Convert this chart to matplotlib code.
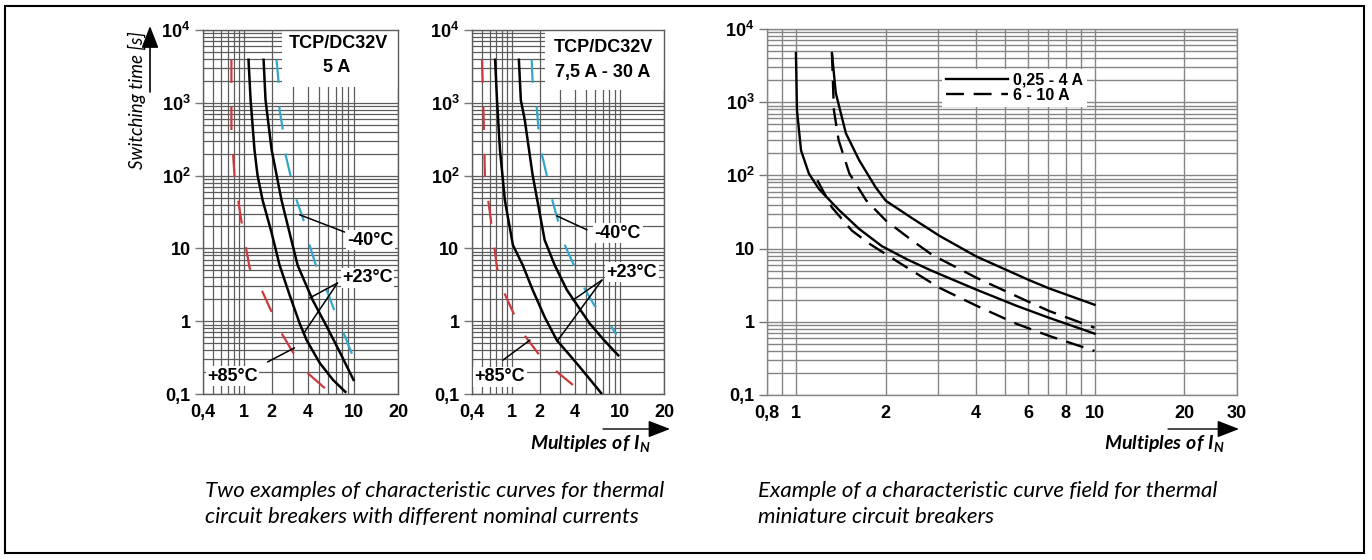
import numpy as np
import matplotlib
matplotlib.use("Agg")
import matplotlib.pyplot as plt
from matplotlib.ticker import FixedLocator, FixedFormatter, LogLocator, NullFormatter
from matplotlib.patches import Rectangle, FancyArrowPatch

# ---- values (x = multiples of I_N, y = switching time [s]) ----
# left chart: TCP/DC32V 5 A
a5_hot_x = [0.76, 0.76, 0.817, 0.956, 1.16, 1.56, 2.0, 2.33, 3.0, 3.93, 5.65]
a5_hot_y = [3900, 423, 96, 23, 5.4, 2.7, 1.34, 0.76, 0.38, 0.2, 0.12]
a5_room_lo_x = [1.13, 1.19, 1.31, 1.41, 1.60, 2.0, 2.33, 2.83, 3.43, 3.93, 5.1, 6.65, 8.5]
a5_room_lo_y = [3900, 1090, 225, 102, 46, 16.3, 5.9, 2.29, 0.94, 0.55, 0.267, 0.156, 0.107]
a5_room_hi_x = [1.64, 1.72, 2.0, 2.2, 2.42, 2.83, 3.3, 4.43, 5.9, 7.67, 10]
a5_room_hi_y = [3900, 1090, 225, 102, 46, 16.3, 5.9, 1.95, 0.83, 0.366, 0.156]
a5_cold_x = [2.2, 2.29, 2.33, 2.47, 2.62, 2.94, 3.24, 3.78, 4.17, 4.8, 6.0, 6.9, 8.2, 9.8]
a5_cold_y = [3900, 1870, 796, 451, 192, 87, 46, 22.3, 11.1, 5.4, 2.44, 1.34, 0.69, 0.34]

# middle chart: TCP/DC32V 7,5 A - 30 A
a30_hot_x = [0.503, 0.526, 0.538, 0.604, 0.71, 0.833, 1.025, 1.31, 2.0, 2.69, 3.85]
a30_hot_y = [3900, 423, 96, 30.6, 5.4, 2.5, 1.34, 0.69, 0.34, 0.214, 0.133]
a30_room_lo_x = [0.68, 0.71, 0.76, 0.85, 1.025, 1.31, 1.68, 2.21, 2.8, 3.62, 4.41, 6.8]
a30_room_lo_y = [3900, 1090, 225, 46, 11.1, 5.9, 2.7, 1.14, 0.55, 0.34, 0.235, 0.103]
a30_room_hi_x = [1.19, 1.25, 1.38, 1.68, 2.21, 2.69, 3.41, 5.36, 7.2, 9.6]
a30_room_hi_y = [3900, 1090, 580, 102, 13, 5.9, 2.7, 0.94, 0.55, 0.34]
a30_cold_x = [1.64, 1.68, 1.86, 1.95, 2.08, 2.3, 2.54, 2.86, 3.28, 3.85, 4.67, 5.9, 8.2, 9.25]
a30_cold_y = [3900, 1930, 875, 423, 204, 102, 49, 24.5, 11.1, 6.3, 3.14, 1.67, 0.89, 0.65]

# right chart: curve field, 0,25 - 4 A (solid) and 6 - 10 A (dashed)
small_hi_x = [1.32, 1.36, 1.47, 1.63, 1.85, 2.0, 2.45, 3.02, 4.02, 6.05, 7.06, 10]
small_hi_y = [4690, 1330, 376, 160, 68.5, 45, 26, 15, 7.8, 3.7, 2.85, 1.71]
small_lo_x = [1.0, 1.008, 1.04, 1.105, 1.195, 1.39, 1.63, 1.94, 2.36, 2.86, 4.02, 5.47, 7.06, 10]
small_lo_y = [4690, 780, 220, 106, 65, 34, 18.5, 10.8, 7.1, 4.95, 2.75, 1.66, 1.13, 0.69]
big_hi_x = [1.32, 1.34, 1.39, 1.51, 1.72, 2.0, 2.45, 2.86, 4.02, 5.91, 7.06, 10]
big_hi_y = [4690, 780, 302, 106, 45.5, 24.2, 12.9, 8.2, 4.0, 1.94, 1.4, 0.83]
big_lo_x = [1.18, 1.32, 1.54, 1.76, 2.22, 3.02, 4.02, 5.47, 7.06, 10]
big_lo_y = [85.5, 36.5, 17.6, 11.7, 6.4, 2.92, 1.66, 0.94, 0.64, 0.40]

tcp_ticks = [0.4, 1, 2, 4, 10, 20]
tcp_ticklabels = ["0,4", "1", "2", "4", "10", "20"]
field_ticks = [0.8, 1, 2, 4, 6, 8, 10, 20, 30]
field_ticklabels = ["0,8", "1", "2", "4", "6", "8", "10", "20", "30"]
y_ticks = [0.1, 1, 10, 100, 1000, 10000]
y_ticklabels = ["0,1", "1", "10", r"$\mathrm{10^{2}}$", r"$\mathrm{10^{3}}$", r"$\mathrm{10^{4}}$"]

plt.rcParams["font.family"] = ["Liberation Sans", "DejaVu Sans"]
plt.rcParams["font.weight"] = "bold"
plt.rcParams["mathtext.fontset"] = "custom"
plt.rcParams["mathtext.rm"] = "Liberation Sans:bold"
plt.rcParams["mathtext.bf"] = "Liberation Sans:bold"
plt.rcParams["mathtext.it"] = "Lato:italic"

W, H = 1372, 560
RED = "#cc3a3e"
CYAN = "#34a6c8"
GRID = "#5c5c5c"

# the printed TCP charts use an uneven log axis: tick positions as axis fractions
tick_pos = np.array([0.0, 0.208, 0.352, 0.536, 0.772, 1.0])
tick_log = np.log10(tcp_ticks)
s0 = (tick_pos[1] - tick_pos[0]) / (tick_log[1] - tick_log[0])
s1 = (tick_pos[-1] - tick_pos[-2]) / (tick_log[-1] - tick_log[-2])
LT = np.r_[tick_log[0] - 20, tick_log, tick_log[-1] + 20]
PS = np.r_[tick_pos[0] - 20 * s0, tick_pos, tick_pos[-1] + 20 * s1]


def fwd(x):
    x = np.asarray(x, dtype=float)
    lx = np.log10(np.where(x > 0, x, 1e-12))
    return np.interp(lx, LT, PS)


def inv(p):
    return 10 ** np.interp(np.asarray(p, dtype=float), PS, LT)


def style_axes(ax, xticks, xlabels, xminor, grid_color, grid_lw):
    ax.set_yscale("log")
    ax.set_ylim(0.1, 1e4)
    ax.xaxis.set_major_locator(FixedLocator(xticks))
    ax.xaxis.set_major_formatter(FixedFormatter(xlabels))
    ax.xaxis.set_minor_locator(FixedLocator(xminor))
    ax.xaxis.set_minor_formatter(NullFormatter())
    ax.yaxis.set_major_locator(FixedLocator(y_ticks))
    ax.yaxis.set_major_formatter(FixedFormatter(y_ticklabels))
    ax.yaxis.set_minor_locator(LogLocator(base=10, subs=np.arange(2, 10), numticks=30))
    ax.yaxis.set_minor_formatter(NullFormatter())
    ax.set_axisbelow(True)
    ax.grid(True, which="both", color=grid_color, lw=grid_lw)
    ax.tick_params(axis="x", which="both", length=0, pad=7, labelsize=13)
    ax.tick_params(axis="y", which="major", length=6, width=1, color="#777777", pad=3, labelsize=13)
    ax.tick_params(axis="y", which="minor", length=0)
    for sp in ax.spines.values():
        sp.set_color(grid_color)
        sp.set_linewidth(1.0)


def leader(ax, xy, start):
    ax.annotate("", xy=xy, xycoords="data", xytext=start, textcoords="axes fraction",
                arrowprops=dict(arrowstyle="-", color="black", lw=1.1, shrinkA=0, shrinkB=0),
                zorder=3.5)


def label(ax, x, y, s):
    ax.text(x, y, s, transform=ax.transAxes, ha="center", va="center", fontsize=13,
            bbox=dict(fc="white", ec="none", pad=1.0), zorder=4)


fig = plt.figure(figsize=(W / 100, H / 100), dpi=100)
fig.patch.set_facecolor("white")

minor_tcp = [0.5, 0.6, 0.7, 0.8, 0.9, 3, 5, 6, 7, 8, 9]
tcp_axes = []
for left, width in [(203, 195), (472, 192)]:
    ax = fig.add_axes([left / W, 1 - 394 / H, width / W, 364 / H])
    ax.set_xscale("function", functions=(fwd, inv))
    ax.set_xlim(0.4, 20)
    style_axes(ax, tcp_ticks, tcp_ticklabels, minor_tcp, GRID, 0.9)
    tcp_axes.append(ax)

ax1, ax2 = tcp_axes
hot_kw = dict(color=RED, lw=1.6, dashes=(10.4, 10.8), zorder=3)
cold_kw = dict(color=CYAN, lw=1.6, dashes=(10.4, 10.8), zorder=3)
room_kw = dict(color="black", lw=1.8, zorder=3)

ax1.plot(a5_hot_x, a5_hot_y, **hot_kw)
ax1.plot(a5_cold_x, a5_cold_y, **cold_kw)
ax1.plot(a5_room_lo_x, a5_room_lo_y, **room_kw)
ax1.plot(a5_room_hi_x, a5_room_hi_y, **room_kw)

ax2.plot(a30_hot_x, a30_hot_y, **hot_kw)
ax2.plot(a30_cold_x, a30_cold_y, **cold_kw)
ax2.plot(a30_room_lo_x, a30_room_lo_y, **room_kw)
ax2.plot(a30_room_hi_x, a30_room_hi_y, **room_kw)

# white title boxes over the grid
ax1.add_patch(Rectangle((0.405, 0.843), 0.595, 0.157, transform=ax1.transAxes,
                        fc="white", ec="none", zorder=1.5))
ax2.add_patch(Rectangle((0.38, 0.835), 0.62, 0.165, transform=ax2.transAxes,
                        fc="white", ec="none", zorder=1.5))
ax1.text(0.695, 0.964, "TCP/DC32V", transform=ax1.transAxes, ha="center", va="center", fontsize=13, zorder=4)
ax1.text(0.685, 0.896, "5 A", transform=ax1.transAxes, ha="center", va="center", fontsize=13, zorder=4)
ax2.text(0.682, 0.953, "TCP/DC32V", transform=ax2.transAxes, ha="center", va="center", fontsize=13, zorder=4)
ax2.text(0.682, 0.882, "7,5 A - 30 A", transform=ax2.transAxes, ha="center", va="center", fontsize=13, zorder=4)

# temperature labels, left chart
leader(ax1, (3.43, 29), (0.726, 0.445))
label(ax1, 0.859, 0.423, "-40°C")
leader(ax1, (4.17, 2.08), (0.69, 0.305))
leader(ax1, (3.78, 0.71), (0.69, 0.305))
label(ax1, 0.844, 0.319, "+23°C")
leader(ax1, (3.11, 0.43), (0.331, 0.088))
label(ax1, 0.151, 0.049, "+85°C")

# temperature labels, middle chart
leader(ax2, (2.8, 28), (0.599, 0.451))
label(ax2, 0.76, 0.442, "-40°C")
leader(ax2, (3.85, 1.95), (0.677, 0.313))
leader(ax2, (2.82, 0.53), (0.677, 0.313))
label(ax2, 0.833, 0.335, "+23°C")
leader(ax2, (1.57, 0.55), (0.161, 0.093))
label(ax2, 0.146, 0.047, "+85°C")

# right chart
ax3 = fig.add_axes([767 / W, 1 - 395 / H, 470 / W, 366 / H])
ax3.set_xscale("log")
ax3.set_xlim(0.8, 30)
style_axes(ax3, field_ticks, field_ticklabels, [0.9, 3, 5, 7, 9], "#858585", 1.0)

solid_kw = dict(color="black", lw=1.7, zorder=3)
dash_kw = dict(color="black", lw=1.7, dashes=(7.6, 4.1), zorder=3)
ax3.plot(small_hi_x, small_hi_y, label="0,25 - 4 A", **solid_kw)
ax3.plot(small_lo_x, small_lo_y, **solid_kw)
ax3.plot(big_hi_x, big_hi_y, label="6 - 10 A", **dash_kw)
ax3.plot(big_lo_x, big_lo_y, **dash_kw)
leg = ax3.legend(loc="upper left", bbox_to_anchor=(0.372, 0.892), fontsize=11.5,
                 handlelength=3.9, handletextpad=0.3, labelspacing=0.0, borderpad=0.25,
                 borderaxespad=0, frameon=True, fancybox=False, edgecolor="none",
                 facecolor="white", framealpha=1)

# axis titles with arrows
fig.text(137 / W, 1 - 100 / H, "Switching time [s]", rotation=90, ha="center", va="center",
         family="Lato", style="italic", weight="normal", fontsize=13.5)
fig.add_artist(FancyArrowPatch((150 / W, 1 - 92 / H), (150 / W, 1 - 26 / H), transform=fig.transFigure,
                               arrowstyle="-|>,head_length=0.9,head_width=0.35", mutation_scale=15,
                               color="black", lw=1.2, shrinkA=0, shrinkB=0))
for x_right, a0, a1 in [(651, 603, 670), (1225, 1168, 1239)]:
    fig.text(x_right / W, 1 - 444 / H, r"$\mathit{Multiples\ of\ I_N}$", ha="right", va="center",
             fontsize=14)
    fig.add_artist(FancyArrowPatch((a0 / W, 1 - 429 / H), (a1 / W, 1 - 429 / H), transform=fig.transFigure,
                                   arrowstyle="-|>,head_length=0.9,head_width=0.35", mutation_scale=15,
                                   color="black", lw=1.0, shrinkA=0, shrinkB=0))

cap_kw = dict(ha="left", va="center", family="Lato", style="italic", weight="normal", fontsize=16)
fig.text(205 / W, 1 - 491 / H, "Two examples of characteristic curves for thermal", **cap_kw)
fig.text(205 / W, 1 - 517 / H, "circuit breakers with different nominal currents", **cap_kw)
fig.text(758 / W, 1 - 491 / H, "Example of a characteristic curve field for thermal", **cap_kw)
fig.text(758 / W, 1 - 517 / H, "miniature circuit breakers", **cap_kw)

# outer frame
fig.add_artist(Rectangle((5 / W, 1 - 553 / H), 1359 / W, 547 / H, transform=fig.transFigure,
                         fill=False, ec="black", lw=1.5))

fig.savefig("out.png", dpi=100)
